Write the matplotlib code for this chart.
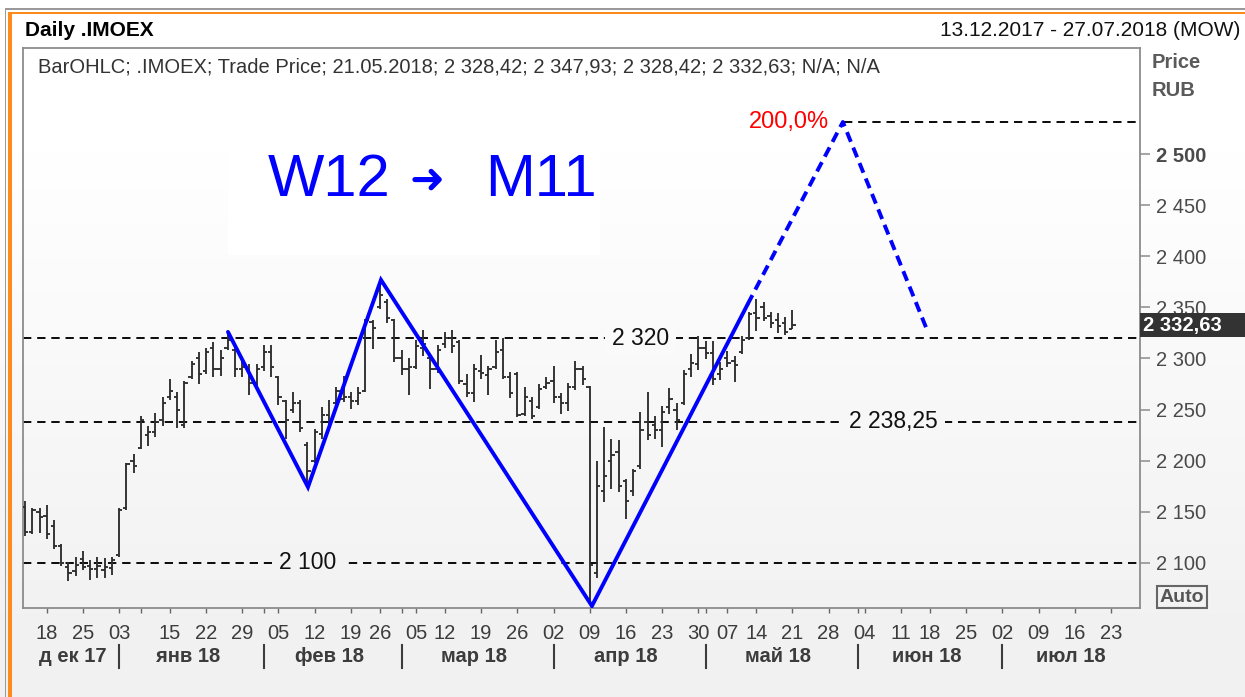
import numpy as np
import pandas as pd
import matplotlib
matplotlib.use('Agg')
import matplotlib.pyplot as plt
from matplotlib.patches import Rectangle
from matplotlib.colors import LinearSegmentedColormap
import matplotlib.transforms as mtransforms

plt.rcParams['font.family'] = ['Liberation Sans', 'DejaVu Sans']
plt.rcParams['lines.scale_dashes'] = False

# ---------------- data ----------------
cal_start, cal_end = '2017-12-13', '2018-07-27'
holidays = ['2018-01-01', '2018-01-02', '2018-01-08', '2018-02-23', '2018-03-08',
            '2018-05-01', '2018-05-09', '2018-06-12']

opens = [2155, 2130, 2150, 2146, 2136, 2116, 2096, 2092, 2104, 2097,
         2094, 2093, 2095, 2108, 2154, 2200, 2212, 2225, 2228, 2240,
         2262, 2262, 2235, 2282, 2300, 2288, 2310, 2290, 2310, 2308,
         2290, 2290, 2276, 2292, 2306, 2282, 2258, 2250, 2256, 2215,
         2200, 2226, 2245, 2256, 2260, 2262, 2258, 2268, 2336, 2350,
         2355, 2338, 2300, 2290, 2292, 2310, 2300, 2290, 2314, 2320,
         2316, 2275, 2266, 2288, 2284, 2292, 2308, 2282, 2285, 2246,
         2258, 2252, 2272, 2278, 2262, 2256, 2272, 2290, 2272, 2090,
         2170, 2200, 2208, 2180, 2170, 2195, 2238, 2235, 2230, 2252,
         2250, 2256, 2290, 2295, 2310, 2305, 2285, 2300, 2298, 2306,
         2320, 2345, 2350, 2342, 2338, 2335, 2328.42]
highs = [2160, 2154, 2154, 2156, 2142, 2118, 2101, 2106, 2111, 2103,
         2106, 2105, 2106, 2154, 2198, 2206, 2244, 2234, 2247, 2262,
         2280, 2267, 2278, 2298, 2306, 2310, 2316, 2308, 2324, 2310,
         2301, 2295, 2295, 2313, 2313, 2283, 2259, 2267, 2259, 2218,
         2231, 2252, 2259, 2272, 2283, 2267, 2272, 2339, 2338, 2376,
         2358, 2339, 2308, 2300, 2318, 2328, 2302, 2313, 2326, 2328,
         2318, 2285, 2295, 2303, 2293, 2318, 2320, 2287, 2287, 2272,
         2262, 2275, 2282, 2293, 2266, 2276, 2298, 2293, 2273, 2200,
         2233, 2221, 2220, 2182, 2192, 2248, 2267, 2244, 2253, 2271,
         2256, 2289, 2304, 2322, 2317, 2317, 2297, 2307, 2302, 2322,
         2346, 2358, 2355, 2346, 2345, 2341, 2347.93]
lows = [2126, 2128, 2129, 2123, 2113, 2097, 2082, 2087, 2093, 2083,
        2085, 2085, 2088, 2106, 2152, 2188, 2211, 2214, 2223, 2234,
        2259, 2232, 2232, 2280, 2275, 2285, 2282, 2283, 2308, 2282,
        2282, 2264, 2272, 2288, 2282, 2254, 2221, 2247, 2228, 2175,
        2198, 2221, 2234, 2254, 2257, 2251, 2254, 2267, 2309, 2348,
        2335, 2297, 2284, 2264, 2290, 2302, 2270, 2286, 2310, 2305,
        2275, 2262, 2257, 2280, 2264, 2290, 2280, 2261, 2243, 2244,
        2241, 2251, 2270, 2256, 2246, 2249, 2269, 2274, 2060, 2085,
        2159, 2172, 2169, 2143, 2165, 2192, 2220, 2221, 2213, 2246,
        2230, 2254, 2282, 2289, 2299, 2274, 2279, 2292, 2277, 2304,
        2318, 2327, 2337, 2330, 2325, 2323, 2328.42]
closes = [2130, 2152, 2145, 2128, 2116, 2100, 2090, 2098, 2096, 2094,
          2097, 2096, 2103, 2152, 2197, 2195, 2240, 2228, 2238, 2256,
          2268, 2250, 2276, 2295, 2285, 2306, 2290, 2300, 2318, 2290,
          2292, 2276, 2290, 2306, 2292, 2262, 2240, 2256, 2232, 2190,
          2228, 2245, 2238, 2268, 2262, 2258, 2266, 2338, 2330, 2362,
          2340, 2300, 2290, 2292, 2312, 2314, 2290, 2308, 2320, 2312,
          2278, 2266, 2290, 2286, 2290, 2306, 2282, 2266, 2245, 2262,
          2244, 2270, 2276, 2262, 2256, 2272, 2290, 2280, 2098, 2175,
          2185, 2205, 2175, 2160, 2190, 2230, 2225, 2230, 2248, 2260,
          2240, 2285, 2296, 2310, 2305, 2280, 2290, 2296, 2294, 2318,
          2344, 2340, 2340, 2335, 2332, 2326, 2332.63]

tick_dates = ['2017-12-18', '2017-12-25', '2018-01-03', '2018-01-09', '2018-01-15',
              '2018-01-22', '2018-01-29', '2018-02-01', '2018-02-05', '2018-02-12',
              '2018-02-19', '2018-02-26', '2018-03-01', '2018-03-05', '2018-03-12',
              '2018-03-19', '2018-03-26', '2018-04-02', '2018-04-09', '2018-04-16',
              '2018-04-23', '2018-04-30', '2018-05-02', '2018-05-07', '2018-05-14',
              '2018-05-21', '2018-05-28', '2018-06-01', '2018-06-04', '2018-06-11',
              '2018-06-18', '2018-06-25', '2018-07-02', '2018-07-09', '2018-07-16',
              '2018-07-23']
tick_labels = ['18', '25', '03', '', '15', '22', '29', '', '05', '12', '19', '26', '',
               '05', '12', '19', '26', '02', '09', '16', '23', '30', '', '07', '14',
               '21', '28', '', '04', '11', '18', '25', '02', '09', '16', '23']
month_labels = ['д ек 17', 'янв 18', 'фев 18', 'мар 18', 'апр 18', 'май 18',
                'июн 18', 'июл 18']

yticks = [2100, 2150, 2200, 2250, 2300, 2350, 2400, 2450, 2500]

level_values = [2320, 2238.25, 2100]
level_labels = ['2 320', '2 238,25', '2 100']
level_label_dates = ['2018-04-18', '2018-06-08', '2018-02-09']

wave_x = [28.03, 39.08, 49.16, 78.3, 99.8]
wave_y = [2326, 2174, 2377, 2057.6, 2353]
proj_x = [99.8, 112.96, 124.7]
proj_y = [2353, 2531.6, 2326]
target_level = 2531.6
target_label = '200,0%'

last_price = 2332.63
last_label = '2 332,63'

# ---------------- calendar ----------------
days = pd.bdate_range(cal_start, cal_end)
days = days[~days.isin(pd.to_datetime(holidays))]
idx_of = {d: i for i, d in enumerate(days)}
n = len(opens)
xb = np.arange(n)

W, H = 1245, 697
fig = plt.figure(figsize=(W / 100, H / 100), dpi=100)
fig.patch.set_facecolor('white')

def fx(px):
    return px / W

def fy(py):
    return 1 - py / H

C_TOP = np.array([255, 255, 255]) / 255.0
C_BOT = np.array([241, 241, 241]) / 255.0

def bg_color(py):
    t = min(max((py - 150) / 500.0, 0), 1)
    return tuple(C_TOP + (C_BOT - C_TOP) * t)

# background gradient
bg = fig.add_axes([0, 0, 1, 1])
bg.set_zorder(-5)
rows = np.arange(H)
g = np.clip((rows - 150) / 500.0, 0, 1).reshape(-1, 1)
cmap = LinearSegmentedColormap.from_list('bg', [tuple(C_TOP), tuple(C_BOT)])
bg.imshow(g, aspect='auto', cmap=cmap, extent=[0, 1, 0, 1], origin='upper', vmin=0, vmax=1)
bg.set_xlim(0, 1)
bg.set_ylim(0, 1)
bg.axis('off')

# window borders
bg.add_patch(Rectangle((fx(5), 0), fx(1.3), fy(8.5), color='#9a9a9a', lw=0))
bg.add_patch(Rectangle((fx(5), fy(9.8)), 1, 1.3 / H, color='#9a9a9a', lw=0))
bg.add_patch(Rectangle((fx(8), 0), fx(3.6), fy(11.5), color='#ff8c1a', lw=0))
bg.add_patch(Rectangle((fx(8), fy(14)), 1, 2.5 / H, color='#ff8c1a', lw=0))

# main axes
L, R, T, B = 23, 1140, 48, 608
ax = fig.add_axes([fx(L), fy(B), fx(R - L), (B - T) / H])
ax.patch.set_alpha(0)
ax.set_xlim(-0.28, len(days) - 1)
ylo, yhi = 2055.6, 2604.1
ax.set_ylim(ylo, yhi)
for s in ax.spines.values():
    s.set_color('#8c8c8c')
    s.set_linewidth(1.3)

def price_px(v):
    return T + (yhi - v) / (yhi - ylo) * (B - T)

# white panel behind the big caption
ax.add_patch(Rectangle((fx(228), fy(255)), fx(372), 137 / H, transform=fig.transFigure,
                       facecolor='white', edgecolor='none', zorder=0.5))

# OHLC bars
bar_col = '#2e2e2e'
ax.vlines(xb, lows, highs, color=bar_col, lw=1.35, zorder=3)
ax.hlines(opens, xb - 0.45, xb, color=bar_col, lw=1.35, zorder=3)
ax.hlines(closes, xb, xb + 0.45, color=bar_col, lw=1.35, zorder=3)

# horizontal levels
dash = (0, (6.0, 4.2))
xmin, xmax = ax.get_xlim()
for v, lab, d in zip(level_values, level_labels, level_label_dates):
    ax.hlines(v, xmin, xmax, colors='black', lw=1.35, linestyles=[dash], zorder=2)
    ax.text(idx_of[pd.Timestamp(d)], v, lab, ha='center', va='center', fontsize=16.5,
            color='#111111', zorder=6,
            bbox=dict(boxstyle='square,pad=0.3', fc=bg_color(price_px(v)), ec='none'))

# pattern lines
ax.plot(wave_x, wave_y, color='#0000ff', lw=2.8, solid_capstyle='round',
        solid_joinstyle='miter', zorder=5)
ax.plot(proj_x, proj_y, color='#0000ff', lw=2.8, linestyle=(0, (7.5, 4.5)), zorder=5)
ax.hlines(target_level, proj_x[1] + 0.2, xmax, colors='black', lw=1.35,
          linestyles=[dash], zorder=2)
ax.text(proj_x[1] - 1.9, target_level, target_label, ha='right', va='center',
        fontsize=17, color='#ff0000', zorder=6)

# big caption
ax.text(fx(268), fy(180), 'W12', transform=fig.transFigure, fontsize=43,
        color='#0000ff', ha='left', va='center', zorder=6)
ax.text(fx(427), fy(181), '➜', transform=fig.transFigure, fontsize=30,
        color='#0000ff', ha='center', va='center', family='DejaVu Sans', zorder=6)
ax.text(fx(485), fy(180), 'M11', transform=fig.transFigure, fontsize=43,
        color='#0000ff', ha='left', va='center', zorder=6)

# y axis (right)
ax.yaxis.tick_right()
ax.set_yticks(yticks)
ax.set_yticklabels([f'{v:,}'.replace(',', ' ') for v in yticks])
ax.tick_params(axis='y', length=7, width=1.1, color='#8c8c8c', pad=4.5,
               labelsize=14.5, labelcolor='#4a4a4a')
for t in ax.get_yticklabels():
    if t.get_text() == '2 500':
        t.set_fontweight('bold')

# x axis
tick_pos = [idx_of[pd.Timestamp(d)] for d in tick_dates]
ax.set_xticks(tick_pos)
ax.set_xticklabels(tick_labels)
ax.tick_params(axis='x', length=3.5, width=1.0, color='#666666', pad=8,
               labelsize=14.5, labelcolor='#3c3c3c')

# months
blend = mtransforms.blended_transform_factory(ax.transData, ax.transAxes)
month_key = days.to_period('M')
months = month_key.unique()
ylab = (B - 657) / (B - T)
for m, lab in zip(months, month_labels):
    ids = np.where(month_key == m)[0]
    ax.text(ids.mean() + (0.6 if m == months[0] else 0), ylab, lab, transform=blend,
            ha='center', va='center', fontsize=14.5, fontweight='bold', color='#3c3c3c')
    if m != months[0]:
        ax.plot([ids[0], ids[0]], [(B - 645) / (B - T), (B - 668) / (B - T)],
                transform=blend, color='#3c3c3c', lw=1.5, clip_on=False)

# last price tag
blend_y = mtransforms.blended_transform_factory(ax.transAxes, ax.transData)
ppu = (B - T) / (yhi - ylo)
ax.add_patch(Rectangle((1.0, last_price - 12 / ppu), (W - R) / (R - L), 24 / ppu,
                       transform=blend_y, facecolor='#333333', edgecolor='none',
                       clip_on=False, zorder=20))
ax.text(1.0 + 3 / (R - L), last_price, last_label, transform=blend_y, ha='left',
        va='center', fontsize=14.5, fontweight='bold', color='white', zorder=21,
        clip_on=False)

# header texts
fig.text(fx(25), fy(30), 'Daily .IMOEX', fontsize=15, fontweight='bold',
         color='black', ha='left', va='center')
fig.text(fx(1240), fy(30), '13.12.2017 - 27.07.2018 (MOW)', fontsize=15,
         color='#111111', ha='right', va='center')
ax.text(fx(38), fy(67),
        'BarOHLC; .IMOEX; Trade Price; 21.05.2018; 2 328,42; 2 347,93; 2 328,42; 2 332,63; N/A; N/A',
        transform=fig.transFigure, fontsize=14.5, color='#333333', ha='left', va='center')
fig.text(fx(1152), fy(62), 'Price', fontsize=14.5, fontweight='bold', color='#5a5a5a',
         ha='left', va='center')
fig.text(fx(1152), fy(91), 'RUB', fontsize=14.5, fontweight='bold', color='#5a5a5a',
         ha='left', va='center')
fig.text(fx(1182), fy(597), 'Auto', fontsize=14, fontweight='bold', color='#555555',
         ha='center', va='center',
         bbox=dict(boxstyle='square,pad=0.12', fc='none', ec='#666666', lw=1.5))

fig.savefig('out.png', dpi=100)
